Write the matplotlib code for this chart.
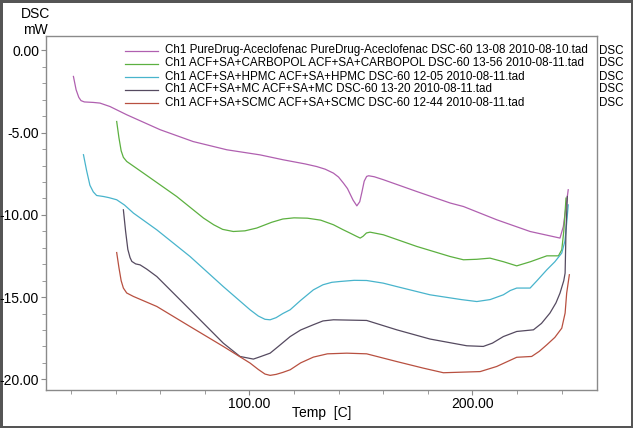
import matplotlib
matplotlib.use("Agg")
import matplotlib.pyplot as plt
from matplotlib.ticker import MultipleLocator, FormatStrFormatter

plt.rcParams['font.family'] = ['Liberation Sans', 'DejaVu Sans']

# DSC traces: temperature [C] and heat flow [mW]
pure_t = [21.1, 22.3, 23.5, 24.5, 26.0, 30.0, 33.0, 37.5, 45.0, 60.0, 74.8, 89.9, 104.8,
          115.2, 125.0, 130.2, 134.0, 137.7, 140.0, 142.2, 144.0, 146.5, 148.2, 149.5,
          150.5, 151.5, 152.6, 153.5, 156.0, 160.1, 175.1, 190.1, 196.0, 211.0, 225.9,
          239.3, 240.8, 243.0]
pure_mw = [-1.58, -2.39, -2.85, -3.05, -3.13, -3.16, -3.20, -3.41, -3.91, -4.82, -5.54, -6.04, -6.35,
           -6.65, -6.90, -7.06, -7.22, -7.46, -7.70, -8.07, -8.40, -9.10, -9.45, -9.20,
           -8.60, -7.95, -7.66, -7.62, -7.68, -7.86, -8.58, -9.28, -9.49, -10.30, -11.01,
           -11.41, -10.71, -8.47]

carbopol_t = [40.5, 41.5, 42.5, 43.5, 45.0, 52.5, 67.4, 79.4, 84.0, 88.0, 92.8, 98.0, 103.3,
              110.0, 115.0, 120.0, 126.0, 132.0, 137.7, 142.0, 145.2, 148.0, 149.7, 151.0,
              152.5, 154.1, 156.0, 160.1, 175.1, 190.0, 196.0, 202.0, 207.9, 214.0, 219.9,
              226.0, 233.4, 238.6, 240.1, 241.0, 242.0]
carbopol_mw = [-4.32, -5.30, -6.10, -6.50, -6.75, -7.46, -8.88, -10.19, -10.60, -10.88, -11.01, -10.97, -10.80,
               -10.45, -10.25, -10.18, -10.20, -10.32, -10.60, -10.90, -11.11, -11.30, -11.41, -11.30,
               -11.10, -11.05, -11.10, -11.21, -11.92, -12.53, -12.73, -12.70, -12.63, -12.85, -13.10,
               -12.85, -12.49, -12.49, -12.12, -11.00, -8.98]

hpmc_t = [25.6, 27.0, 28.5, 30.0, 31.5, 34.5, 37.0, 40.5, 44.0, 48.0, 58.5, 73.4, 88.3,
          100.3, 104.0, 107.0, 109.3, 112.0, 115.0, 118.3, 123.0, 128.7, 133.0, 137.0,
          140.7, 147.0, 152.6, 160.0, 166.1, 181.0, 195.0, 202.0, 208.0, 213.9, 217.0,
          219.9, 225.9, 229.0, 233.4, 237.0, 240.1, 241.5, 242.3, 243.0]
hpmc_mw = [-6.34, -7.30, -8.20, -8.60, -8.82, -8.88, -8.95, -9.08, -9.40, -9.89, -10.91, -12.53, -14.36,
           -15.77, -16.15, -16.35, -16.38, -16.25, -16.00, -15.77, -15.20, -14.56, -14.25, -14.10,
           -14.05, -13.98, -13.99, -14.15, -14.36, -14.86, -15.15, -15.27, -15.15, -14.86, -14.60,
           -14.45, -14.45, -14.00, -13.34, -12.85, -12.32, -11.60, -10.50, -9.39]

mc_t = [43.5, 44.5, 45.5, 46.5, 47.3, 49.0, 51.0, 54.0, 58.5, 73.4, 88.3, 95.8, 101.8,
        105.0, 109.3, 113.0, 118.3, 123.0, 128.7, 133.0, 137.7, 152.6, 166.1, 181.0,
        197.5, 204.9, 209.0, 213.9, 219.9, 227.4, 231.0, 234.8, 237.5, 239.3, 241.0,
        241.6, 242.0, 242.6]
mc_mw = [-9.69, -11.00, -12.10, -12.60, -12.83, -12.98, -13.04, -13.30, -13.75, -15.77, -17.80, -18.61, -18.77,
         -18.62, -18.41, -18.00, -17.40, -17.00, -16.68, -16.45, -16.38, -16.42, -16.99, -17.55,
         -17.96, -18.00, -17.80, -17.40, -17.09, -16.99, -16.60, -15.97, -15.35, -14.76, -14.00,
         -13.54, -10.91, -8.88]

scmc_t = [40.5, 41.5, 42.5, 43.5, 45.0, 48.0, 58.5, 73.4, 88.3, 100.3, 104.0, 107.0, 109.3,
          112.0, 115.0, 118.3, 123.0, 128.7, 135.0, 143.7, 152.6, 166.1, 178.0, 187.0,
          203.5, 210.9, 219.9, 226.6, 230.0, 233.4, 237.0, 240.1, 241.6, 242.3, 243.5]
scmc_mw = [-12.29, -13.20, -14.00, -14.45, -14.75, -14.96, -15.57, -16.79, -18.00, -19.01, -19.40, -19.68, -19.76,
           -19.70, -19.58, -19.42, -19.00, -18.65, -18.45, -18.41, -18.45, -18.92, -19.32, -19.60,
           -19.53, -19.22, -18.66, -18.61, -18.30, -17.90, -17.45, -16.89, -15.97, -14.76, -13.64]

labels = [
    "Ch1 PureDrug-Aceclofenac PureDrug-Aceclofenac DSC-60 13-08 2010-08-10.tad",
    "Ch1 ACF+SA+CARBOPOL ACF+SA+CARBOPOL DSC-60 13-56 2010-08-11.tad",
    "Ch1 ACF+SA+HPMC ACF+SA+HPMC DSC-60 12-05 2010-08-11.tad",
    "Ch1 ACF+SA+MC ACF+SA+MC DSC-60 13-20 2010-08-11.tad",
    "Ch1 ACF+SA+SCMC ACF+SA+SCMC DSC-60 12-44 2010-08-11.tad",
]
colors = ['#b060b0', '#5cb040', '#48b4cc', '#554a60', '#b85040']

W, H = 633, 428
fig = plt.figure(figsize=(W / 100, H / 100), dpi=100, linewidth=2.5, edgecolor='#555555')
ax = fig.add_axes([46 / W, 1 - 390 / H, (597 - 46) / W, (390 - 36) / H])

series = [(pure_t, pure_mw), (carbopol_t, carbopol_mw), (hpmc_t, hpmc_mw),
          (mc_t, mc_mw), (scmc_t, scmc_mw)]
for (t, mw), c in zip(series, colors):
    ax.plot(t, mw, color=c, lw=0.9)

ax.set_xlim(8.8, 255.9)
ax.set_ylim(-20.65, 0.88)

ax.xaxis.set_major_locator(MultipleLocator(100))
ax.xaxis.set_minor_locator(MultipleLocator(20))
ax.yaxis.set_major_locator(MultipleLocator(5))
ax.yaxis.set_minor_locator(MultipleLocator(1))
ax.xaxis.set_major_formatter(FormatStrFormatter('%.2f'))
ax.yaxis.set_major_formatter(FormatStrFormatter('%.2f'))

for s in ax.spines.values():
    s.set_color('#8a8a8a')
    s.set_linewidth(1.0)
ax.tick_params(which='both', direction='out', color='#8a8a8a', top=False, right=False,
               labelsize=10, pad=1.5)
ax.tick_params(which='major', length=3.5)
ax.tick_params(which='minor', length=3)

# labels placed like the instrument printout
fig.text(35 / W, 1 - 22 / H, "DSC\nmW", ha='center', va='center', fontsize=10,
         linespacing=1.1)
fig.text(322 / W, 1 - 413 / H, "Temp  [C]", ha='center', va='center', fontsize=10)

# legend block at the top
row_y = [50.5, 63.5, 76.5, 89.5, 102.5]
for lab, c, y in zip(labels, colors, row_y):
    fy = 1 - y / H
    fig.add_artist(plt.Line2D([125 / W, 158 / W], [fy, fy], color=c, lw=0.9))
    fig.text(165 / W, fy, lab, ha='left', va='center', fontsize=8.4)
    fig.text(599 / W, fy, "DSC", ha='left', va='center', fontsize=8.4)

fig.savefig("out.png", dpi=100)
